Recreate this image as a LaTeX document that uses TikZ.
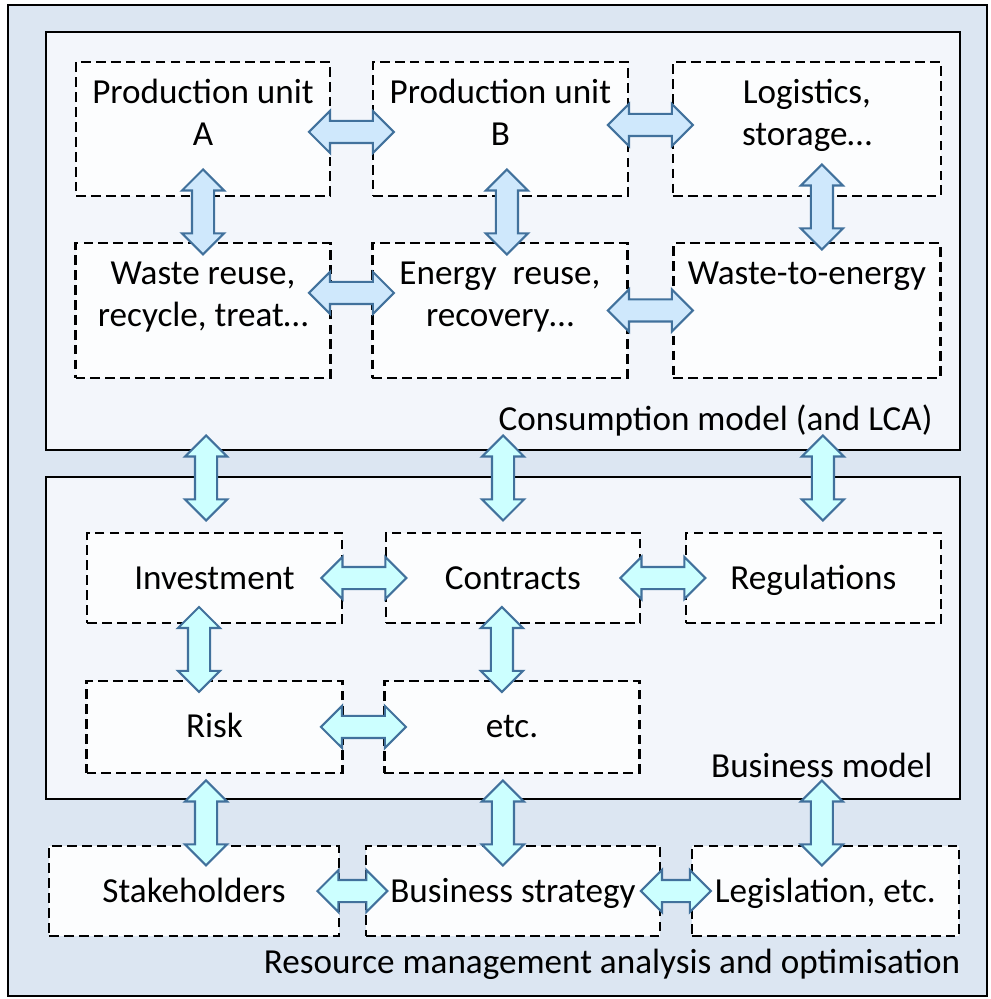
\documentclass[tikz,border=0pt]{standalone}
\usepackage{fontspec}
\setmainfont{Carlito}
\usetikzlibrary{shapes, arrows, positioning, calc}
\definecolor{outerbg}{RGB}{220,230,242}
\definecolor{panelbg}{RGB}{243,246,251}
\definecolor{boxbg}{RGB}{252,253,254}
\definecolor{arrowline}{RGB}{65,113,156}
\definecolor{arrowtop}{RGB}{207,232,252}
\definecolor{arrowmid}{RGB}{204,255,255}
\tikzset{
  frame/.style={draw=black, rectangle, line width=1.1pt, inner sep=0pt},
  dbox/.style={draw=black, rectangle, dash pattern=on 5.5pt off 3pt, line width=1.3pt, fill=boxbg, inner sep=0pt, outer sep=0pt, align=center, text height=0.56cm, text depth=0.12cm},
  boxtext/.style={anchor=base, align=center},
  seclabel/.style={anchor=base east, inner sep=0pt},
  blockarrow/.style={double arrow, draw=arrowline, line width=1.2pt, inner xsep=0pt, inner ysep=0.2cm, minimum width=0.8cm, minimum height=1.7cm, double arrow head extend=0.2cm, double arrow tip angle=90},
  toparrow/.style={blockarrow, fill=arrowtop},
  midarrow/.style={blockarrow, fill=arrowmid},
}

\begin{document}
\begin{tikzpicture}[x=0.02cm, y=-0.02cm, font=\fontsize{20}{23.9}\selectfont]
  \useasboundingbox (0,0) rectangle (990,999);
  % Frames
  \node[frame, fill=outerbg, line width=0.8pt, minimum width=19.58cm, minimum height=19.82cm] (outer) at (497.5,500.5) {};
  \node[frame, fill=panelbg, minimum width=18.28cm, minimum height=8.36cm] (cons) at (503,241) {};
  \node[frame, fill=panelbg, minimum width=18.28cm, minimum height=6.44cm] (biz) at (503,638) {};

  % Consumption model boxes
  \node[dbox, minimum width=5.08cm, minimum height=2.68cm] (pa) at (203,129) {};
  \node[dbox, minimum width=5.1cm, minimum height=2.68cm, right=0.86cm of pa] (pb) {};
  \node[dbox, minimum width=5.36cm, minimum height=2.68cm, right=0.9cm of pb] (lg) {};
  \node[dbox, minimum width=5.1cm, minimum height=2.7cm, below=0.94cm of pa] (wr) {};
  \node[dbox, minimum width=5.1cm, minimum height=2.7cm, right=0.84cm of wr] (er) {};
  \node[dbox, minimum width=5.34cm, minimum height=2.7cm, right=0.92cm of er] (we) {};
  \node[boxtext] (patext) at ([yshift=-1.68cm]pa.north) {Production unit\\A};
  \node[boxtext] (pbtext) at ([yshift=-1.68cm]pb.north) {Production unit\\B};
  \node[boxtext] (lgtext) at ([yshift=-1.68cm]lg.north) {Logistics,\\storage…};
  \node[boxtext] (wrtext) at ([yshift=-1.68cm]wr.north) {Waste reuse,\\recycle, treat…};
  \node[boxtext] (ertext) at ([yshift=-1.68cm]er.north) {Energy\ \ reuse,\\recovery…};
  \node[boxtext] (wetext) at ([yshift=-0.84cm]we.north) {Waste-to-energy};
  \node[seclabel] (conslabel) at ([xshift=-0.56cm, yshift=0.4cm]cons.south east) {Consumption model (and LCA)};

  % Business model boxes
  \node[dbox, minimum width=5.1cm, minimum height=1.8cm] (inv) at (214.5,578) {Investment};
  \node[dbox, minimum width=5.08cm, minimum height=1.8cm, right=0.88cm of inv] (con) {Contracts};
  \node[dbox, minimum width=5.1cm, minimum height=1.8cm, right=0.92cm of con] (reg) {Regulations};
  \node[dbox, minimum width=5.12cm, minimum height=1.84cm, below=1.16cm of inv] (risk) {Risk};
  \node[dbox, minimum width=5.1cm, minimum height=1.84cm, right=0.84cm of risk] (etc) {etc.};
  \node[seclabel] (bizlabel) at ([xshift=-0.56cm, yshift=0.44cm]biz.south east) {Business model};

  % Resource management boxes
  \node[dbox, minimum width=5.8cm, minimum height=1.8cm] (stk) at (194,891) {Stakeholders};
  \node[dbox, minimum width=5.88cm, minimum height=1.8cm, right=0.54cm of stk] (str) {Business strategy};
  \node[dbox, minimum width=5.34cm, minimum height=1.8cm, right=0.64cm of str] (leg) {Legislation, etc.};
  \node[seclabel] (reslabel) at ([xshift=-0.54cm, yshift=0.46cm]outer.south east) {Resource management analysis and optimisation};

  % Block arrows, consumption model
  \path ([yshift=-0.06cm]pa.east) -- ([yshift=-0.06cm]pb.west) node[midway, toparrow] (papb) {};
  \path ([yshift=0.08cm]pb.east) -- ([yshift=0.08cm]lg.west) node[midway, toparrow] (pblg) {};
  \path ([yshift=0.35cm]wr.east) -- ([yshift=0.35cm]er.west) node[midway, toparrow] (wrer) {};
  \path (er.east) -- (we.west) node[midway, toparrow] (erwe) {};
  \path ([yshift=0.15cm]pa.south) -- ([yshift=0.15cm]pa.south |- wr.north) node[midway, rotate=90, toparrow] (pawr) {};
  \path ([xshift=0.13cm, yshift=0.15cm]pb.south) -- ([xshift=0.13cm, yshift=0.15cm]pb.south |- er.north) node[midway, rotate=90, toparrow] (pber) {};
  \path ([xshift=0.3cm, yshift=0.25cm]lg.south) -- ([xshift=0.3cm, yshift=0.25cm]lg.south |- we.north) node[midway, rotate=90, toparrow] (lgwe) {};

  % Block arrows, consumption model <-> business model
  \path ([xshift=-5.94cm, yshift=-0.29cm]cons.south) -- ([xshift=-5.94cm, yshift=-0.29cm]biz.north) node[midway, rotate=90, midarrow] (cb1) {};
  \path ([yshift=-0.29cm]cons.south) -- ([yshift=-0.29cm]biz.north) node[midway, rotate=90, midarrow] (cb2) {};
  \path ([xshift=6.4cm, yshift=-0.29cm]cons.south) -- ([xshift=6.4cm, yshift=-0.29cm]biz.north) node[midway, rotate=90, midarrow] (cb3) {};

  % Block arrows, business model
  \path (inv.east) -- (con.west) node[midway, midarrow] (invcon) {};
  \path (con.east) -- (reg.west) node[midway, midarrow] (conreg) {};
  \path (risk.east) -- (etc.west) node[midway, midarrow] (risketc) {};
  \path ([xshift=-0.31cm, yshift=0.05cm]inv.south) -- ([xshift=-0.31cm, yshift=0.05cm]inv.south |- risk.north) node[midway, rotate=90, midarrow] (invrisk) {};
  \path ([xshift=-0.22cm, yshift=0.05cm]con.south) -- ([xshift=-0.22cm, yshift=0.05cm]con.south |- etc.north) node[midway, rotate=90, midarrow] (conetc) {};

  % Block arrows, business model <-> resource management
  \path ([xshift=0.24cm]stk.north |- biz.south) -- ([xshift=0.24cm]stk.north) node[midway, rotate=90, midarrow] (bs1) {};
  \path ([xshift=-0.2cm]str.north |- biz.south) -- ([xshift=-0.2cm]str.north) node[midway, rotate=90, midarrow] (bs2) {};
  \path ([xshift=-0.07cm]leg.north |- biz.south) -- ([xshift=-0.07cm]leg.north) node[midway, rotate=90, midarrow] (bs3) {};
  \path (stk.east) -- (str.west) node[midway, midarrow, minimum height=1.4cm] (stkstr) {};
  \path (str.east) -- (leg.west) node[midway, midarrow, minimum height=1.4cm] (strleg) {};
\end{tikzpicture}
\end{document}
